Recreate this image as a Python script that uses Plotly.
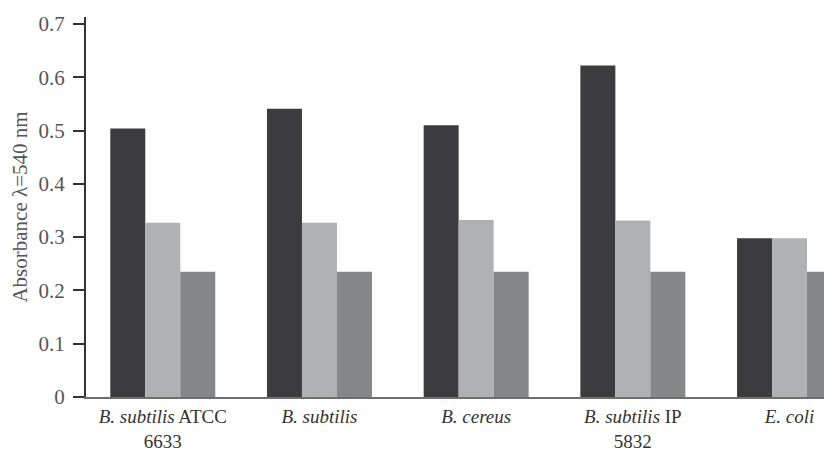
import plotly.graph_objects as go

categories = [
    "<i>B. subtilis</i> ATCC<br>6633",
    "<i>B. subtilis</i>",
    "<i>B. cereus</i>",
    "<i>B. subtilis</i> IP<br>5832",
    "<i>E. coli</i>",
]
series_dark = [0.504, 0.541, 0.510, 0.622, 0.298]
series_light = [0.327, 0.327, 0.332, 0.331, 0.298]
series_mid = [0.235, 0.235, 0.235, 0.235, 0.235]
y_ticks = [0, 0.1, 0.2, 0.3, 0.4, 0.5, 0.6, 0.7]
y_ticklabels = ["0", "0.1", "0.2", "0.3", "0.4", "0.5", "0.6", "0.7"]

fig = go.Figure()
for vals, col in [(series_dark, "#3c3c3e"), (series_light, "#b0b1b3"), (series_mid, "#858688")]:
    fig.add_trace(go.Bar(x=categories, y=vals, marker=dict(color=col, line=dict(width=0)),
                         showlegend=False))

font_family = "Liberation Serif, Times New Roman, serif"
fig.update_layout(
    width=832, height=453,
    margin=dict(l=78, r=8, t=9, b=64),
    paper_bgcolor="white", plot_bgcolor="white",
    barmode="group", bargap=0.33, bargroupgap=0,
    font=dict(family=font_family, color="#333"),
)
fig.update_xaxes(
    range=[-0.49, 4.271], showline=True, linecolor="#6e6e6e", linewidth=2,
    ticks="", showgrid=False, tickfont=dict(size=19, color="#333"),
    automargin=False, ticklabelstandoff=1,
)
fig.update_yaxes(
    range=[0, 0.713], tickvals=y_ticks, ticktext=y_ticklabels,
    showline=True, linecolor="#333", linewidth=2,
    ticks="outside", ticklen=11, tickwidth=2, tickcolor="#333",
    showgrid=False, zeroline=False, automargin=False, ticklabelstandoff=4,
    tickfont=dict(size=21, color="#555"),
    title=dict(text="Absorbance λ=540 nm", font=dict(size=21, color="#555"), standoff=5),
)
fig.write_html("out.html")
